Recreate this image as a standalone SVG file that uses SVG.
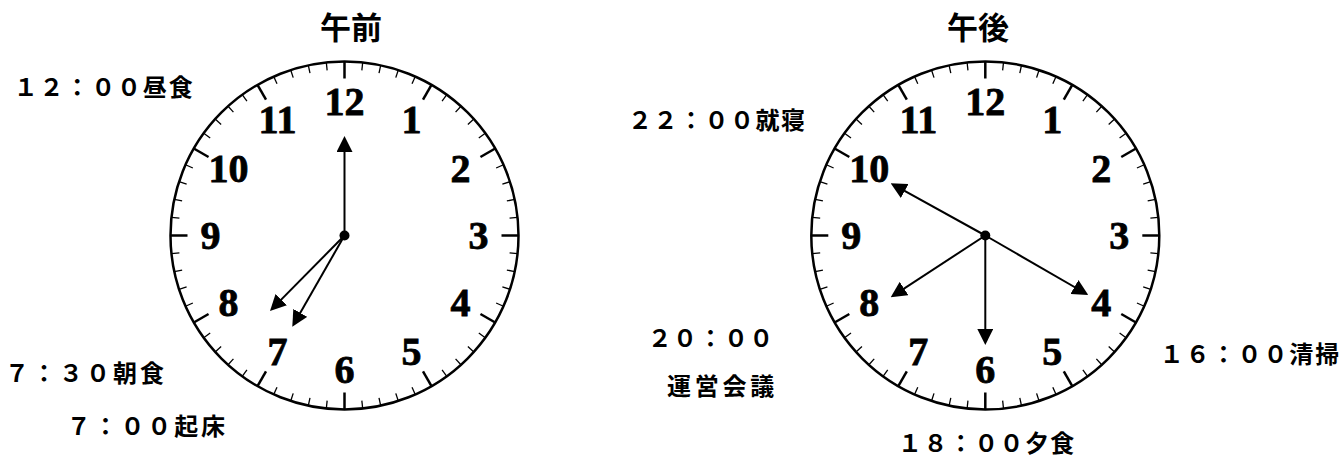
<svg xmlns="http://www.w3.org/2000/svg" xmlns:xlink="http://www.w3.org/1999/xlink" width="1341" height="457" viewBox="0 0 1341 457">
<style>
.face{fill:#fff;stroke:#000;stroke-width:2.5}
.mt{stroke:#000;stroke-width:1.3}
.ht{stroke:#000;stroke-width:2.5}
.num{font-family:"Liberation Serif",serif;font-weight:bold;font-size:40px;text-anchor:middle;fill:#000;stroke:#000;stroke-width:0.8}
.lbl{font-family:"Noto Sans CJK JP",sans-serif;font-weight:bold;font-size:24px;fill:#000}
.ttl{font-family:"Noto Sans CJK JP",sans-serif;font-weight:bold;font-size:31px;text-anchor:middle;fill:#000}
.hand{stroke:#000;stroke-width:2;fill:none;marker-end:url(#ah)}
.dot{fill:#000}
</style>
<defs>
<marker id="ah" markerUnits="userSpaceOnUse" markerWidth="16" markerHeight="16" refX="12" refY="8" orient="auto">
<path d="M0,0 L16,8 L0,16 z" fill="#000"/>
</marker>
<line id="h" class="ht" x1="0" y1="-174" x2="0" y2="-157"/>
<line id="m" class="mt" x1="0" y1="-174" x2="0" y2="-166"/>
<g id="ticks">
<use xlink:href="#h" transform="rotate(0)"/><use xlink:href="#m" transform="rotate(6)"/><use xlink:href="#m" transform="rotate(12)"/><use xlink:href="#m" transform="rotate(18)"/><use xlink:href="#m" transform="rotate(24)"/>
<use xlink:href="#h" transform="rotate(30)"/><use xlink:href="#m" transform="rotate(36)"/><use xlink:href="#m" transform="rotate(42)"/><use xlink:href="#m" transform="rotate(48)"/><use xlink:href="#m" transform="rotate(54)"/>
<use xlink:href="#h" transform="rotate(60)"/><use xlink:href="#m" transform="rotate(66)"/><use xlink:href="#m" transform="rotate(72)"/><use xlink:href="#m" transform="rotate(78)"/><use xlink:href="#m" transform="rotate(84)"/>
<use xlink:href="#h" transform="rotate(90)"/><use xlink:href="#m" transform="rotate(96)"/><use xlink:href="#m" transform="rotate(102)"/><use xlink:href="#m" transform="rotate(108)"/><use xlink:href="#m" transform="rotate(114)"/>
<use xlink:href="#h" transform="rotate(120)"/><use xlink:href="#m" transform="rotate(126)"/><use xlink:href="#m" transform="rotate(132)"/><use xlink:href="#m" transform="rotate(138)"/><use xlink:href="#m" transform="rotate(144)"/>
<use xlink:href="#h" transform="rotate(150)"/><use xlink:href="#m" transform="rotate(156)"/><use xlink:href="#m" transform="rotate(162)"/><use xlink:href="#m" transform="rotate(168)"/><use xlink:href="#m" transform="rotate(174)"/>
<use xlink:href="#h" transform="rotate(180)"/><use xlink:href="#m" transform="rotate(186)"/><use xlink:href="#m" transform="rotate(192)"/><use xlink:href="#m" transform="rotate(198)"/><use xlink:href="#m" transform="rotate(204)"/>
<use xlink:href="#h" transform="rotate(210)"/><use xlink:href="#m" transform="rotate(216)"/><use xlink:href="#m" transform="rotate(222)"/><use xlink:href="#m" transform="rotate(228)"/><use xlink:href="#m" transform="rotate(234)"/>
<use xlink:href="#h" transform="rotate(240)"/><use xlink:href="#m" transform="rotate(246)"/><use xlink:href="#m" transform="rotate(252)"/><use xlink:href="#m" transform="rotate(258)"/><use xlink:href="#m" transform="rotate(264)"/>
<use xlink:href="#h" transform="rotate(270)"/><use xlink:href="#m" transform="rotate(276)"/><use xlink:href="#m" transform="rotate(282)"/><use xlink:href="#m" transform="rotate(288)"/><use xlink:href="#m" transform="rotate(294)"/>
<use xlink:href="#h" transform="rotate(300)"/><use xlink:href="#m" transform="rotate(306)"/><use xlink:href="#m" transform="rotate(312)"/><use xlink:href="#m" transform="rotate(318)"/><use xlink:href="#m" transform="rotate(324)"/>
<use xlink:href="#h" transform="rotate(330)"/><use xlink:href="#m" transform="rotate(336)"/><use xlink:href="#m" transform="rotate(342)"/><use xlink:href="#m" transform="rotate(348)"/><use xlink:href="#m" transform="rotate(354)"/>
</g>
<g id="nums">
<text class="num" x="0" y="-121">12</text>
<text class="num" x="67" y="-103">1</text>
<text class="num" x="116" y="-54">2</text>
<text class="num" x="134" y="13">3</text>
<text class="num" x="116" y="80">4</text>
<text class="num" x="67" y="129">5</text>
<text class="num" x="0" y="147">6</text>
<text class="num" x="-67" y="129">7</text>
<text class="num" x="-116" y="80">8</text>
<text class="num" x="-134" y="13">9</text>
<text class="num" x="-116" y="-54">10</text>
<text class="num" x="-67" y="-103">11</text>
</g>
</defs>
<rect width="1341" height="457" fill="#fff"/>

<g id="clock-am" transform="translate(344.5,235.5)">
<circle class="face" r="174"/>
<use xlink:href="#ticks"/>
<use xlink:href="#nums"/>
</g>
<g id="clock-pm" transform="translate(985.3,235.5)">
<circle class="face" r="174"/>
<use xlink:href="#ticks"/>
<use xlink:href="#nums"/>
</g>

<g id="connectors">
<path class="hand" d="M344.5,235.5 L344.5,140"/>
<path class="hand" d="M344.5,235.5 L272.8,308.15"/>
<path class="hand" d="M344.5,235.5 L294.29,323.23"/>
<path class="hand" d="M985.3,235.5 L894.2,185.2"/>
<path class="hand" d="M985.3,235.5 L1084.83,293.0"/>
<path class="hand" d="M985.3,235.5 L894.05,295.1"/>
<path class="hand" d="M985.3,235.5 L985.3,341"/>
</g>
<circle class="dot" cx="344.5" cy="235.5" r="5"/>
<circle class="dot" cx="985.3" cy="235.5" r="5"/>

<g id="title-am"><text class="ttl" x="351" y="39">午前</text></g>
<g id="title-pm"><text class="ttl" x="978" y="39">午後</text></g>

<g id="lbl-1200"><text class="lbl" x="13.7" y="95.7" textLength="179" lengthAdjust="spacing">１２：００昼食</text></g>
<g id="lbl-0730"><text class="lbl" x="5" y="381.5" textLength="159" lengthAdjust="spacing">７：３０朝食</text></g>
<g id="lbl-0700"><text class="lbl" x="66.7" y="435" textLength="158.3" lengthAdjust="spacing">７：００起床</text></g>
<g id="lbl-2200"><text class="lbl" x="628" y="129" textLength="177" lengthAdjust="spacing">２２：００就寝</text></g>
<g id="lbl-2000"><text class="lbl" x="647.7" y="347" textLength="125.6" lengthAdjust="spacing">２０：００</text>
<text class="lbl" x="667" y="395" textLength="107.3" lengthAdjust="spacing">運営会議</text></g>
<g id="lbl-1600"><text class="lbl" x="1159.7" y="363" textLength="179.6" lengthAdjust="spacing">１６：００清掃</text></g>
<g id="lbl-1800"><text class="lbl" x="898" y="452" textLength="176.3" lengthAdjust="spacing">１８：００夕食</text></g>
</svg>
